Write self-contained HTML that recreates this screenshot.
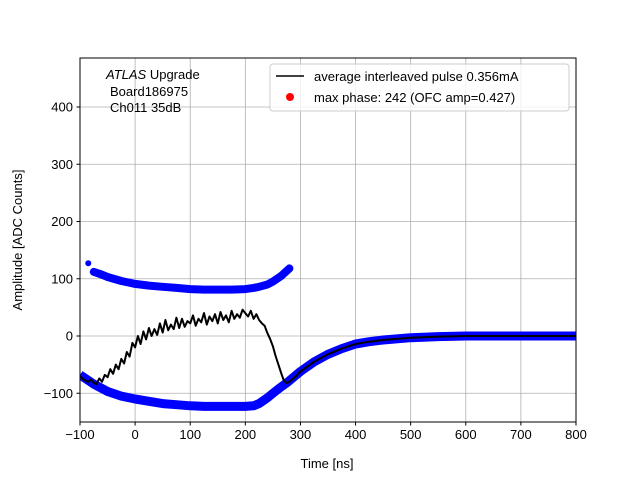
<!DOCTYPE html>
<html><head><meta charset="utf-8"><style>
body{margin:0;background:#fff}
svg{font-family:"Liberation Sans","DejaVu Sans",sans-serif}
</style></head><body>
<svg id="c" width="640" height="480">
<defs><clipPath id="pc"><rect x="80" y="58" width="496" height="364"/></clipPath></defs>
<rect width="640" height="480" fill="#fff"/>
<g id="grid"></g>
<g id="series" clip-path="url(#pc)"></g>
<rect x="80" y="58" width="496" height="364" fill="none" stroke="#000" stroke-width="1"/>
<g id="axes" font-size="13"></g>
<text x="327" y="468" font-size="13" text-anchor="middle">Time [ns]</text>
<text x="22" y="240" font-size="13" text-anchor="middle" transform="rotate(-90 22 240)">Amplitude [ADC Counts]</text>
<g font-size="13">
<text x="106" y="79"><tspan font-style="italic">ATLAS</tspan> Upgrade</text>
<text x="110" y="96">Board186975</text>
<text x="110" y="112">Ch011 35dB</text>
</g>
<g>
<rect x="270" y="64" width="299" height="47" rx="3" fill="#fff" fill-opacity="0.8" stroke="#ccc"/>
<line x1="276" y1="76" x2="304" y2="76" stroke="#000" stroke-width="1.5"/>
<text x="314" y="81" font-size="13">average interleaved pulse 0.356mA</text>
<circle cx="290" cy="97" r="4" fill="#f00"/>
<text x="314" y="102" font-size="13">max phase: 242 (OFC amp=0.427)</text>
</g>
</svg>
<script>
const xTicks=[-100,0,100,200,300,400,500,600,700,800];
const yTicks=[-100,0,100,200,300,400];
const upperT=[-75,-60,-50,-25,0,25,50,75,100,125,150,175,200,215,225,240,250,265,280];
const upperV=[112,107,103,96,91,88,86,84,82,81,81,81,82,84,86,90,95,105,118];
const outlierT=[-85];
const outlierV=[127];
const lowerT=[-100,-75,-50,-25,0,25,50,75,100,125,150,175,200,215,225,240,250,262,275,300,325,350,375,400,425,450,500,550,600,700,800];
const lowerV=[-68,-84,-97,-105,-110,-114,-118,-120,-122,-123,-123,-123,-123,-122,-118,-108,-100,-91,-82,-62,-45,-32,-22,-14,-10,-7,-3,-1,0,0,0];
const pulseT=[-100,-95,-90,-85,-80,-75,-70,-65,-60,-55,-50,-45,-40,-35,-30,-25,-20,-15,-10,-5,0,5,10,15,20,25,30,35,40,45,50,55,60,65,70,75,80,85,90,95,100,105,110,115,120,125,130,135,140,145,150,155,160,165,170,175,180,185,190,195,200,205,210,215,220,225,230,235,240,245,250,255,260,265,270,275,280,290,300,325,350,375,400,425,450,500,550,600,700,800];
const pulseV=[-70,-75,-78,-80,-76,-82,-84,-74,-80,-68,-72,-58,-66,-50,-58,-40,-48,-28,-36,-12,-20,0,-14,8,-6,14,0,12,2,22,6,28,10,20,12,32,14,30,16,26,22,36,18,30,24,40,20,34,26,38,22,42,28,36,24,44,30,38,32,46,40,34,44,30,38,28,22,18,5,-5,-18,-35,-50,-65,-78,-82,-80,-72,-62,-45,-32,-22,-14,-10,-7,-3,-1,0,0,0];
const X=t=>80+(t+100)*496/900;
const Y=v=>336-v*0.5725;
const NS='http://www.w3.org/2000/svg';
function mk(tag,attrs,parent){const e=document.createElementNS(NS,tag);for(const k in attrs)e.setAttribute(k,attrs[k]);parent.appendChild(e);return e;}
const grid=document.getElementById('grid'),axes=document.getElementById('axes'),series=document.getElementById('series');
xTicks.forEach(t=>{
 const g=mk('line',{x1:X(t),x2:X(t),y1:58,y2:422,stroke:'#b0b0b0','stroke-width':0.8},grid);
 
 
 mk('line',{x1:X(t),x2:X(t),y1:422,y2:425.5,stroke:'#000'},axes);
 const l=mk('text',{x:X(t),y:439,'text-anchor':'middle'},axes);l.textContent=t<0?'\u2212'+(-t):t;
 
 
});
yTicks.forEach(v=>{
 const g=mk('line',{x1:80,x2:576,y1:Y(v),y2:Y(v),stroke:'#b0b0b0','stroke-width':0.8},grid);
 
 
 mk('line',{x1:76.5,x2:80,y1:Y(v),y2:Y(v),stroke:'#000'},axes);
 const l=mk('text',{x:73,y:Y(v)+4.5,'text-anchor':'end'},axes);l.textContent=v<0?'\u2212'+(-v):v;
 
 
});
function pts(T,V){return T.map((t,i)=>X(t).toFixed(1)+','+Y(V[i]).toFixed(1)).join(' ');}
const up=mk('polyline',{points:pts(upperT,upperV),fill:'none',stroke:'#0000ff','stroke-width':8,'stroke-linecap':'round','stroke-linejoin':'round'},series);


const lo=mk('polyline',{points:pts(lowerT,lowerV),fill:'none',stroke:'#0000ff','stroke-width':9,'stroke-linecap':'butt','stroke-linejoin':'round'},series);


outlierT.forEach((t,i)=>{const c=mk('circle',{cx:X(t),cy:Y(outlierV[i]),r:3,fill:'#0000ff'},series);
 
 });
const pl=mk('polyline',{points:pts(pulseT,pulseV),fill:'none',stroke:'#000','stroke-width':2,'stroke-linejoin':'round'},series);


</script>
</body></html>
